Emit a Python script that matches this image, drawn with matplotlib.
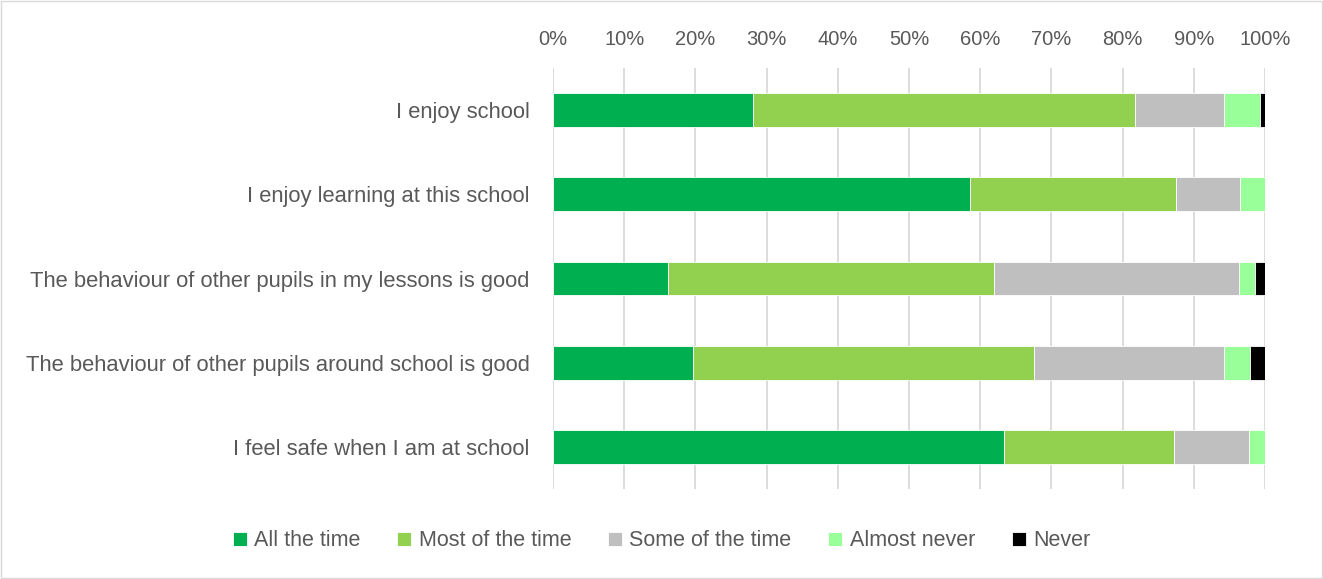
import matplotlib.pyplot as plt
from matplotlib.patches import Rectangle
from matplotlib.ticker import FuncFormatter

plt.rcParams["font.family"] = ["Liberation Sans", "DejaVu Sans"]

questions = [
    "I enjoy school",
    "I enjoy learning at this school",
    "The behaviour of other pupils in my lessons is good",
    "The behaviour of other pupils around school is good",
    "I feel safe when I am at school",
]
series_names = ["All the time", "Most of the time", "Some of the time", "Almost never", "Never"]
all_time = [28.1, 58.5, 16.1, 19.6, 63.4]
most_time = [53.6, 29.0, 45.9, 48.0, 23.8]
some_time = [12.6, 9.0, 34.4, 26.7, 10.6]
almost_never = [5.0, 3.5, 2.2, 3.6, 2.2]
never = [0.7, 0.0, 1.4, 2.1, 0.0]
colors = ["#00B050", "#92D050", "#BFBFBF", "#99FF99", "#000000"]

text_col = "#595959"

fig = plt.figure(figsize=(13.23, 5.79), dpi=100)
ax = fig.add_axes([553 / 1323, 1 - 489 / 579, 712 / 1323, 421 / 579])

data = [all_time, most_time, some_time, almost_never, never]
left = [0.0] * len(questions)
for name, vals, col in zip(series_names, data, colors):
    ax.barh(range(len(questions)), vals, left=left, height=0.4, color=col,
            edgecolor="white", linewidth=0.6, label=name, zorder=3)
    left = [l + v for l, v in zip(left, vals)]

ax.set_xlim(0, 100)
ax.set_ylim(4.5, -0.5)
ax.set_yticks(range(len(questions)))
ax.set_yticklabels(questions)
ax.set_xticks(range(0, 101, 10))
ax.xaxis.set_major_formatter(FuncFormatter(lambda v, p: f"{int(v)}%"))
ax.xaxis.tick_top()
ax.tick_params(axis="x", length=0, labelsize=14.5, colors=text_col, pad=14)
ax.tick_params(axis="y", length=0, labelsize=15.8, colors=text_col, pad=17)
ax.grid(axis="x", color="#D9D9D9", linewidth=1.3, zorder=0)
for s in ax.spines.values():
    s.set_visible(False)

fig.legend(loc="center", bbox_to_anchor=(0.5, 1 - 541 / 579), ncol=5, frameon=False,
           fontsize=15.5, labelcolor=text_col, handlelength=0.65, handleheight=0.65,
           handletextpad=0.35, columnspacing=1.7)

fig.patches.append(Rectangle((0.001, 0.001), 0.998, 0.998, transform=fig.transFigure,
                             fill=False, edgecolor="#D9D9D9", linewidth=1))

fig.savefig("out.png", dpi=100)
